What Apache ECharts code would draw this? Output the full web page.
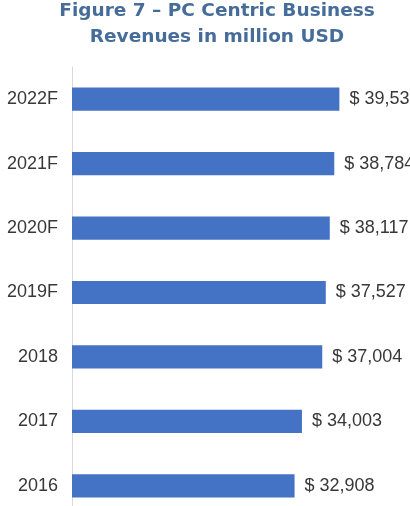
<!DOCTYPE html>
<html>
<head>
<meta charset="utf-8">
<script src="https://cdn.jsdelivr.net/npm/echarts@6/dist/echarts.min.js"></script>
<style>
  html, body { margin: 0; padding: 0; background: #fff; }
  #chart { width: 410px; height: 506px; }
</style>
</head>
<body>
<div id="chart"></div>
<script>
// revenue per year, bottom to top
var years = ['2016', '2017', '2018', '2019F', '2020F', '2021F', '2022F'];
var revenues = [32908, 34003, 37004, 37527, 38117, 38784, 39536];

var chart = echarts.init(document.getElementById('chart'));

chart.setOption({
    animation: false,
    title: {
        text: 'Figure 7 – PC Centric Business\nRevenues in million USD',
        left: 212,
        top: -7,
        textAlign: 'center',
        textStyle: {
            fontFamily: 'DejaVu Sans',
            fontSize: 18.5,
            fontWeight: 'bold',
            color: '#466c9a',
            lineHeight: 26
        }
    },
    grid: {
        left: 72,
        right: 10,
        top: 67,
        bottom: -12,
        outerBoundsMode: 'none'
    },
    xAxis: {
        type: 'value',
        min: 0,
        max: 48500,
        show: false
    },
    yAxis: {
        type: 'category',
        data: years,
        axisLine: { onZero: false, lineStyle: { color: '#d9d9d9', width: 1 } },
        axisTick: { length: 4, lineStyle: { color: '#c4c4c4' } },
        axisLabel: {
            margin: 14,
            fontFamily: 'Liberation Sans',
            fontSize: 18,
            color: '#383838'
        }
    },
    series: [{
        type: 'bar',
        data: revenues,
        barWidth: '36%',
        itemStyle: { color: '#4472c4' },
        label: {
            show: true,
            position: 'right',
            distance: 10,
            fontFamily: 'Liberation Sans',
            fontSize: 18,
            color: '#383838',
            formatter: function (p) {
                return '$ ' + p.value.toLocaleString('en-US');
            }
        }
    }]
});
</script>
</body>
</html>
